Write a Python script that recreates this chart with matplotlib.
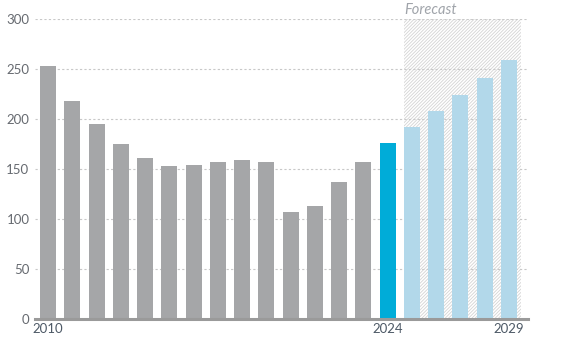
import numpy as np
import matplotlib
matplotlib.use("Agg")
import matplotlib.pyplot as plt

years = list(range(2010, 2030))
values = [253, 218, 195, 175, 161, 153, 154, 157, 159, 157,
          107, 113, 137, 157, 176, 192, 208, 224, 241, 259]
shown_years = [2010, 2024, 2029]
first_forecast = 2025

plt.rcParams['font.family'] = ['Lato', 'DejaVu Sans']
plt.rcParams['hatch.linewidth'] = 0.6

fig = plt.figure(figsize=(5.63, 3.46), dpi=100)
ax = fig.add_axes([35/563, 27/346, 493/563, 300/346])

x = np.arange(len(years))
colors = []
for y in years:
    if y < 2024:
        colors.append('#a5a6a8')
    elif y == 2024:
        colors.append('#00acd8')
    else:
        colors.append('#b2d8ea')

# forecast shaded area
fi = years.index(first_forecast)
ax.axvspan(fi - 0.33, len(years) - 0.5, ymin=0, ymax=1, facecolor='white',
           edgecolor='#d4d4d4', hatch='//////////', linewidth=0, zorder=0)
ax.text(fi - 0.33, 302, 'Forecast', style='italic', color='#a0a4aa',
        fontsize=10.5, ha='left', va='bottom')

ax.bar(x, values, width=0.66, color=colors, zorder=3)

ax.set_xlim(-0.54, 19.79)
ax.set_ylim(0, 300)
ax.set_yticks(range(0, 301, 50))
ax.yaxis.grid(True, linestyle=(0, (2, 2)), color='#c8c8c8', linewidth=0.8)
ax.set_axisbelow(False)
for gl in ax.get_ygridlines():
    gl.set_zorder(1)

ax.set_xticks([years.index(y) for y in shown_years])
ax.set_xticklabels([str(y) for y in shown_years])
ax.tick_params(axis='x', length=0, pad=3, labelsize=9.5, labelcolor='#4d5966')
ax.tick_params(axis='y', length=0, pad=4, labelsize=9.5, labelcolor='#666a70')

for s in ['top', 'right', 'left']:
    ax.spines[s].set_visible(False)
ax.spines['bottom'].set_color('#9a9a9a')
ax.spines['bottom'].set_linewidth(2.2)
ax.spines['bottom'].set_zorder(4)

fig.savefig('out.png', dpi=100)
